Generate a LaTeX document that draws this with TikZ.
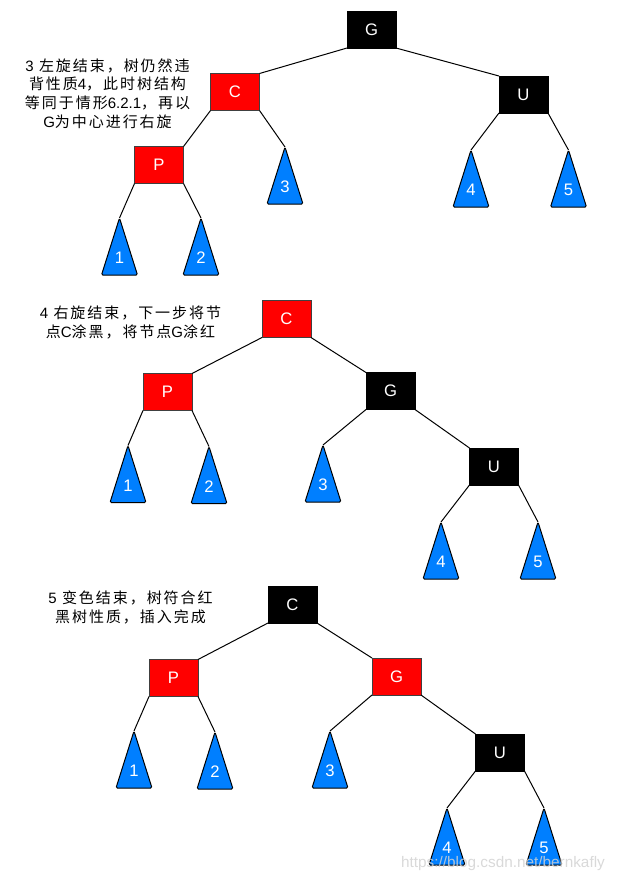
\documentclass[tikz,border=0pt]{standalone}
\usepackage{fontspec}
\setmainfont{Liberation Sans}
\newfontfamily\cjk[LetterSpace=13]{Noto Sans CJK SC}
\usepackage{tikz}
\usetikzlibrary{calc}

\definecolor{nodered}{RGB}{255,0,0}
\definecolor{treeblue}{RGB}{0,127,255}

\newcommand\subtri[3]{%
  \coordinate (#1) at (#2);
  \draw[tri] (#1) -- ++(18,57) -- ++(-36,0) -- cycle;
  \node[num] at ($(#1)+(0,40)$) {#3};
}
\newcommand\lat[1]{{\rmfamily #1}}

\begin{document}
\begin{tikzpicture}[x=.75pt, y=-.75pt,
  rb/.style={draw=black!75, fill=nodered, line width=.75pt, minimum width=36.75pt, minimum height=27.75pt, inner sep=0, outer sep=0, text=white, font=\fontsize{12.5}{15}\selectfont},
  bb/.style={rb, draw=black, fill=black},
  tri/.style={draw=black, line width=.75pt, fill=treeblue, rounded corners=1pt},
  num/.style={text=white, font=\fontsize{12.5}{15}\selectfont},
  link/.style={line width=.75pt},
  remark/.style={align=center, font=\cjk\fontsize{11.25}{14}\selectfont},
  wm/.style={text=gray!35, opacity=.85, font=\fontsize{11.5}{13}\selectfont}]
\useasboundingbox (0,0) rectangle (617,883);

% 3: after left rotation
\node[remark] (n1) at (107.5,93.5) {\lat{3} 左旋结束，树仍然违\\背性质\lat{4}，此时树结构\\等同于情形\lat{6.2.1}，再以\\\lat{G}为中心进行右旋};
\node[bb] (g1) at (371.5,29.5) {G};
\node[rb] (c1) at (235,92) {C};
\node[bb] (u1) at (523.5,94.5) {U};
\node[rb] (p1) at (159,165) {P};
\subtri{t11}{119.5,218}{1}
\subtri{t12}{201,218}{2}
\subtri{t13}{285,147}{3}
\subtri{t14}{471,150}{4}
\subtri{t15}{568.5,150}{5}
\draw[link] (g1.south west) -- (c1.north east);
\draw[link] (g1.south east) -- (u1.north west);
\draw[link] (c1.south west) -- (p1.north east);
\draw[link] (c1.south east) -- (t13);
\draw[link] (p1.south west) -- (t11);
\draw[link] (p1.south east) -- (t12);
\draw[link] (u1.south west) -- (t14);
\draw[link] (u1.south east) -- (t15);

% 4: after right rotation
\node[remark] (n2) at (130.5,322.5) {\lat{4} 右旋结束，下一步将节\\点\lat{C}涂黑，将节点\lat{G}涂红};
\node[rb] (c2) at (286.5,319) {C};
\node[rb] (p2) at (167.5,392) {P};
\node[bb] (g2) at (390.5,391) {G};
\node[bb] (u2) at (494,466.5) {U};
\subtri{t21}{128,445.5}{1}
\subtri{t22}{209,446.5}{2}
\subtri{t23}{323,445}{3}
\subtri{t24}{441,522}{4}
\subtri{t25}{538,522}{5}
\draw[link] (c2.south west) -- (p2.north east);
\draw[link] (c2.south east) -- (g2.north west);
\draw[link] (p2.south west) -- (t21);
\draw[link] (p2.south east) -- (t22);
\draw[link] (g2.south west) -- (t23);
\draw[link] (g2.south east) -- (u2.north west);
\draw[link] (u2.south west) -- (t24);
\draw[link] (u2.south east) -- (t25);

% 5: recoloured
\node[remark] (n3) at (130.5,607.5) {\lat{5} 变色结束，树符合红\\黑树性质，插入完成};
\node[bb] (c3) at (292.5,604.5) {C};
\node[rb] (p3) at (173.5,678) {P};
\node[rb] (g3) at (396.5,676.5) {G};
\node[bb] (u3) at (500,752.5) {U};
\subtri{t31}{134,731}{1}
\subtri{t32}{215,732}{2}
\subtri{t33}{330,731}{3}
\subtri{t34}{447,808}{4}
\subtri{t35}{544,808}{5}
\draw[link] (c3.south west) -- (p3.north east);
\draw[link] (c3.south east) -- (g3.north west);
\draw[link] (p3.south west) -- (t31);
\draw[link] (p3.south east) -- (t32);
\draw[link] (g3.south west) -- (t33);
\draw[link] (g3.south east) -- (u3.north west);
\draw[link] (u3.south west) -- (t34);
\draw[link] (u3.south east) -- (t35);

\node[wm] (url) at (503,864) {https://blog.csdn.net/bernkafly};
\end{tikzpicture}
\end{document}
